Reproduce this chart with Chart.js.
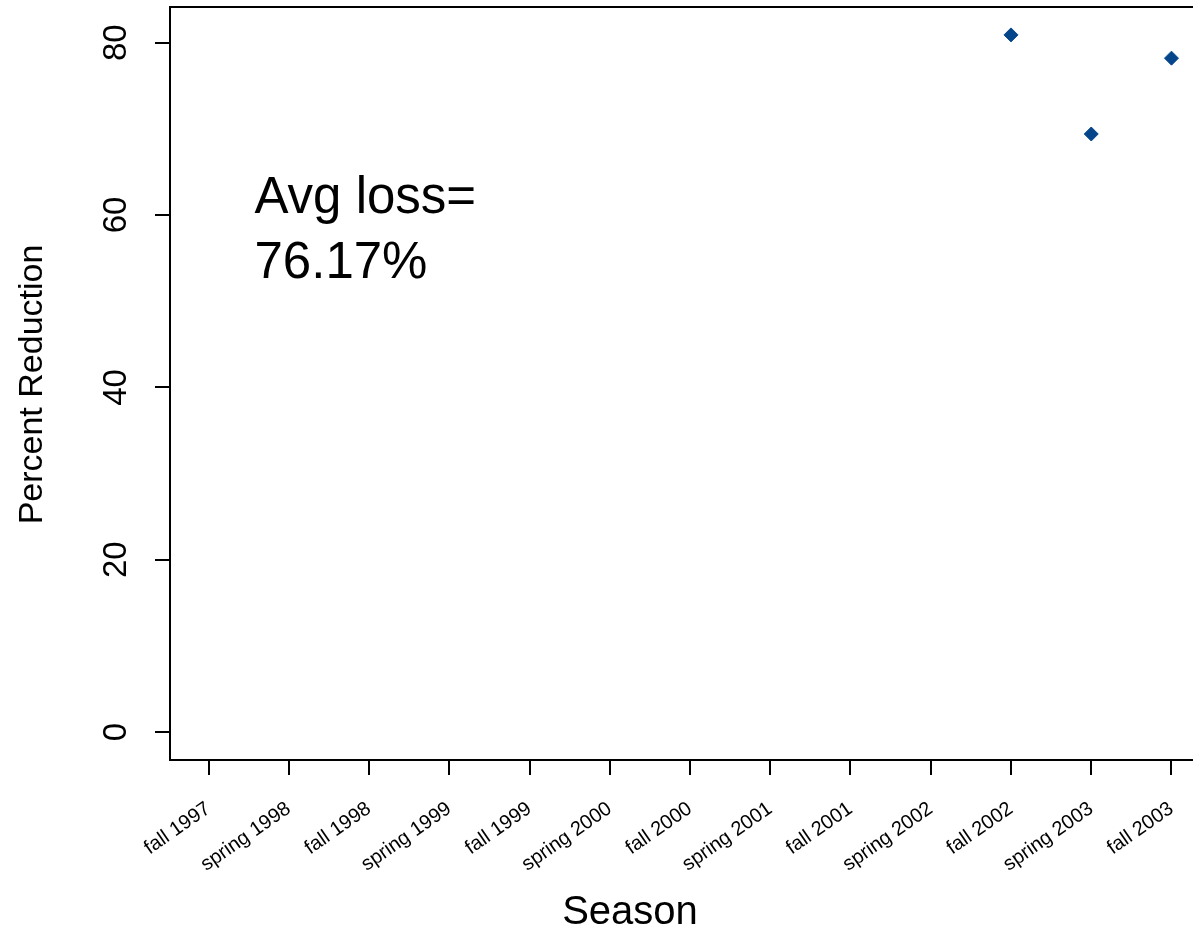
<!DOCTYPE html>
<html><head><meta charset="utf-8">
<script src="https://cdn.jsdelivr.net/npm/chart.js@4"></script>
<style>html,body{margin:0;padding:0;background:#fff;overflow:hidden}#wrap{width:1193px;height:931px;position:relative;overflow:hidden}</style>
</head><body><div id="wrap"><canvas id="c" width="1210" height="931"></canvas></div>
<script>
const seasons = ['fall 1997','spring 1998','fall 1998','spring 1999','fall 1999','spring 2000','fall 2000','spring 2001','fall 2001','spring 2002','fall 2002','spring 2003','fall 2003'];
const reduction = [null,null,null,null,null,null,null,null,null,null,80.9,69.4,78.2];
const yTicks = [0,20,40,60,80];
const avgLines = ['Avg loss=','76.17%'];
const xTitle = 'Season';
const yTitle = 'Percent Reduction';

const FONT = "'Liberation Sans', Arial, Helvetica, sans-serif";
const points = [];
reduction.forEach((v,i)=>{ if(v!==null) points.push({x:i+1,y:v}); });

const boxPlugin = {
  id:'box',
  afterDraw(chart){
    const ctx = chart.ctx, a = chart.chartArea;
    ctx.save();
    ctx.strokeStyle = '#000'; ctx.lineWidth = 2;
    ctx.beginPath(); ctx.moveTo(a.left-1, a.top); ctx.lineTo(a.right, a.top); ctx.stroke();
    ctx.fillStyle = '#000';
    ctx.font = '51px ' + FONT;
    ctx.textAlign = 'left'; ctx.textBaseline = 'alphabetic';
    ctx.fillText(avgLines[0], 254.5, 213);
    ctx.fillText(avgLines[1], 254.5, 278);
    ctx.font = '40px ' + FONT;
    ctx.textAlign = 'center';
    ctx.fillText(xTitle, 630, 924);
    ctx.font = '34px ' + FONT;
    ctx.translate(41.5, 384.5); ctx.rotate(-Math.PI/2);
    ctx.fillText(yTitle, 0, 0);
    ctx.restore();
  }
};

new Chart(document.getElementById('c'), {
  type:'scatter',
  data:{ datasets:[{ data: points, pointStyle:'rectRot', pointRadius:7, pointHoverRadius:7,
    backgroundColor:'#05468B', borderColor:'#05468B', borderWidth:1, showLine:false }]},
  options:{
    responsive:false, animation:false, devicePixelRatio:1,
    layout:{ autoPadding:false, padding:{ top:7, left:0, right:0, bottom:0 } },
    plugins:{ legend:{display:false}, tooltip:{enabled:false} },
    scales:{
      x:{
        type:'linear', min:0.52, max:13.48,
        afterBuildTicks(s){ s.ticks = seasons.map((c,i)=>({value:i+1})); },
        afterFit(s){ s.height = 171; s.paddingLeft = 0; s.paddingRight = 0; },
        grid:{ display:true, drawOnChartArea:false, drawTicks:true, tickLength:15, color:'#000', lineWidth:2 },
        border:{ display:true, color:'#000', width:2 },
        ticks:{ autoSkip:false, minRotation:35, maxRotation:35, padding:22, color:'#000',
          font:{ family:FONT, size:20 },
          callback(v){ return seasons[Math.round(v)-1] || ''; } }
      },
      y:{
        type:'linear', min:-3.236, max:84.136,
        afterBuildTicks(s){ s.ticks = yTicks.map(v=>({value:v})); },
        afterFit(s){ s.width = 170; s.paddingTop = 0; s.paddingBottom = 0; },
        grid:{ display:true, drawOnChartArea:false, drawTicks:true, tickLength:15, color:'#000', lineWidth:2 },
        border:{ display:true, color:'#000', width:2 },
        ticks:{ minRotation:90, maxRotation:90, crossAlign:'center', padding:20, color:'#000',
          font:{ family:FONT, size:33 },
          callback(v){ return String(v); } }
      }
    }
  },
  plugins:[boxPlugin]
});
</script></body></html>
